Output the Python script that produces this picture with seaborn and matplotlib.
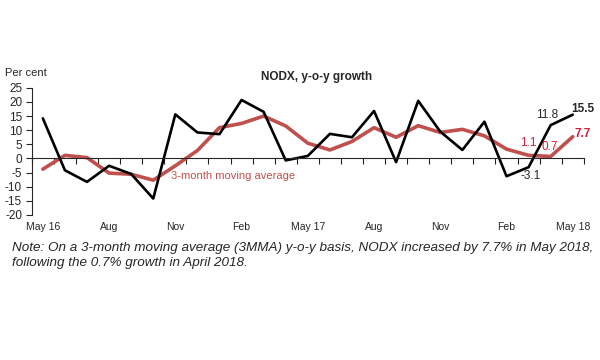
import pandas as pd
import matplotlib
matplotlib.use('Agg')
import matplotlib.pyplot as plt
import seaborn as sns

months = ['May 16', 'Jun 16', 'Jul 16', 'Aug 16', 'Sep 16', 'Oct 16', 'Nov 16', 'Dec 16',
          'Jan 17', 'Feb 17', 'Mar 17', 'Apr 17', 'May 17', 'Jun 17', 'Jul 17', 'Aug 17',
          'Sep 17', 'Oct 17', 'Nov 17', 'Dec 17', 'Jan 18', 'Feb 18', 'Mar 18', 'Apr 18', 'May 18']
nodx_yoy = [14.2, -4.2, -8.3, -2.6, -5.5, -14.2, 15.6, 9.2, 8.6, 20.7, 16.5, -0.7, 0.9,
            8.7, 7.5, 16.8, -1.3, 20.4, 9.5, 3.0, 13.0, -6.3, -3.1, 11.8, 15.5]
nodx_3mma = [-3.8, 1.1, 0.3, -5.2, -5.6, -7.7, -2.6, 2.8, 10.9, 12.4, 15.0, 11.5, 5.4,
             3.0, 6.0, 10.9, 7.5, 11.6, 9.2, 10.3, 8.0, 3.3, 1.1, 0.7, 7.7]
tick_labels = ['May 16', 'Aug', 'Nov', 'Feb', 'May 17', 'Aug', 'Nov', 'Feb', 'May 18']

df = pd.DataFrame({'t': range(len(months)), 'month': months,
                   'yoy': nodx_yoy, 'mma': nodx_3mma})

sns.set_style('white')
plt.rcParams['font.family'] = ['Liberation Sans', 'DejaVu Sans']
plt.rcParams['axes.unicode_minus'] = False
red = '#c0504d'
label_red = '#cc1f3a'

fig = plt.figure(figsize=(6, 3.6), dpi=100)
ax = fig.add_axes([0.053, 0.403, 0.92, 0.353])

sns.lineplot(data=df, x='t', y='mma', ax=ax, color=red, linewidth=2.6)
sns.lineplot(data=df, x='t', y='yoy', ax=ax, color='black', linewidth=1.9)

ax.set_xlim(-0.5, len(months) - 0.5)
ax.set_ylim(-20, 25)
ax.set_yticks(range(-20, 30, 5))
ax.set_xlabel('')
ax.set_ylabel('')

for s in ['top', 'right']:
    ax.spines[s].set_visible(False)
ax.spines['left'].set_linewidth(0.8)
ax.spines['bottom'].set_position(('data', 0))
ax.spines['bottom'].set_linewidth(0.8)
ax.set_xticks([i - 0.5 for i in range(len(months) + 1)])
ax.set_xticklabels([])
ax.tick_params(axis='x', direction='out', length=4, width=0.8, bottom=True)
ax.tick_params(axis='y', direction='out', length=4, width=0.8, left=True, labelsize=8.5, pad=3)

sec = ax.secondary_xaxis(0)
sec.set_xticks(range(0, len(months), 3))
sec.set_xticklabels(tick_labels, fontsize=7.5)
sec.tick_params(length=0, pad=5)
sec.spines['bottom'].set_visible(False)

fig.text(0.008, 0.797, 'Per cent', fontsize=8, va='center')
fig.text(0.527, 0.786, 'NODX, y-o-y growth', fontsize=8.5, fontweight='bold', ha='center', va='center')

ax.text(8.6, -6.3, '3-month moving average', color=red, fontsize=8, ha='center', va='center')
ax.text(23.95, 17.6, '15.5', fontsize=8.5, fontweight='bold', ha='left', va='center')
ax.text(22.85, 15.5, '11.8', fontsize=8.5, ha='center', va='center')
ax.text(22.1, -6.3, '-3.1', fontsize=8.5, ha='center', va='center')
ax.text(22.0, 5.6, '1.1', fontsize=8.5, color=label_red, ha='center', va='center')
ax.text(22.95, 4.2, '0.7', fontsize=8.5, color=label_red, ha='center', va='center')
ax.text(24.1, 8.8, '7.7', fontsize=8.5, fontweight='bold', color=label_red, ha='left', va='center')

note = ('Note: On a 3-month moving average (3MMA) y-o-y basis, NODX increased by 7.7% in May 2018,\n'
        'following the 0.7% growth in April 2018.')
fig.text(0.02, 0.328, note, fontsize=9.7, style='italic', ha='left', va='top', linespacing=1.3)

fig.savefig('out.png', dpi=100)
plt.close(fig)
